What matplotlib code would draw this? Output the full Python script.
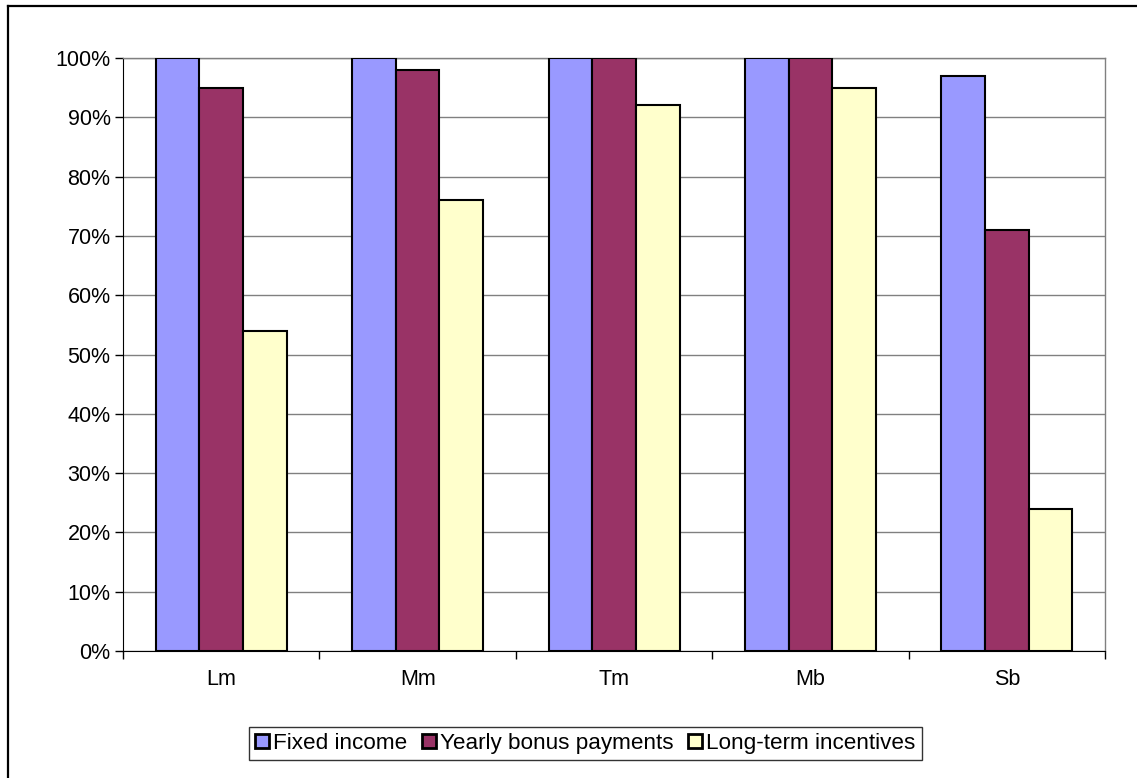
import numpy as np
import matplotlib.pyplot as plt
from matplotlib.lines import Line2D
from matplotlib.ticker import PercentFormatter

plt.rcParams['font.family'] = ['Liberation Sans', 'DejaVu Sans']

groups = ["Lm", "Mm", "Tm", "Mb", "Sb"]
fixed_income = [100, 100, 100, 100, 97]
yearly_bonus = [95, 98, 100, 100, 71]
long_term = [54, 76, 92, 95, 24]

series_names = ["Fixed income", "Yearly bonus payments", "Long-term incentives"]
colors = ["#9999FF", "#993366", "#FFFFCC"]

fig = plt.figure(figsize=(11.37, 7.78), dpi=100)
ax = fig.add_axes([0.1082, 0.1632, 0.8637, 0.7622])

x = np.arange(len(groups))
w = 1 / 4.5  # gap width 150%
for i, (vals, name, c) in enumerate(zip([fixed_income, yearly_bonus, long_term], series_names, colors)):
    ax.bar(x + (i - 1) * w, vals, w, color=c, edgecolor="black", linewidth=1.5,
           label=name, zorder=3)

ax.set_xlim(-0.5, len(groups) - 0.5)
ax.set_ylim(0, 100)
ax.set_yticks(np.arange(0, 101, 10))
ax.yaxis.set_major_formatter(PercentFormatter(decimals=0))
ax.set_xticks(x)
ax.set_xticklabels(groups)
ax.set_xticks(np.arange(-0.5, len(groups), 1), minor=True)
ax.tick_params(axis="x", which="major", length=0, pad=13, labelsize=15.5)
ax.tick_params(axis="x", which="minor", length=6, width=1, direction="out")
ax.tick_params(axis="y", length=6, width=1, direction="out", pad=3, labelsize=15.5)
ax.yaxis.grid(True, color="#808080", linewidth=1, zorder=0)

for s in ["top", "right"]:
    ax.spines[s].set_color("#808080")
    ax.spines[s].set_linewidth(1)
ax.spines["left"].set_color("black")
ax.spines["bottom"].set_color("black")

leg = fig.legend(loc="center", bbox_to_anchor=(0.515, 0.0445), ncol=3, frameon=True,
                 fancybox=False, edgecolor="black", fontsize=16.2, handlelength=0.6,
                 handleheight=0.6, handletextpad=0.2, columnspacing=0.65,
                 borderpad=0.28, borderaxespad=0)
leg.get_frame().set_linewidth(1)
for h in leg.legend_handles:
    h.set_linewidth(2)

# outer chart frame
fx = 8 / 1137
fy = 1 - 6 / 778
fig.add_artist(Line2D([fx, fx], [0, fy], color="black", linewidth=1.6, transform=fig.transFigure))
fig.add_artist(Line2D([fx, 1], [fy, fy], color="black", linewidth=1.6, transform=fig.transFigure))

fig.savefig("out.png", dpi=100)
